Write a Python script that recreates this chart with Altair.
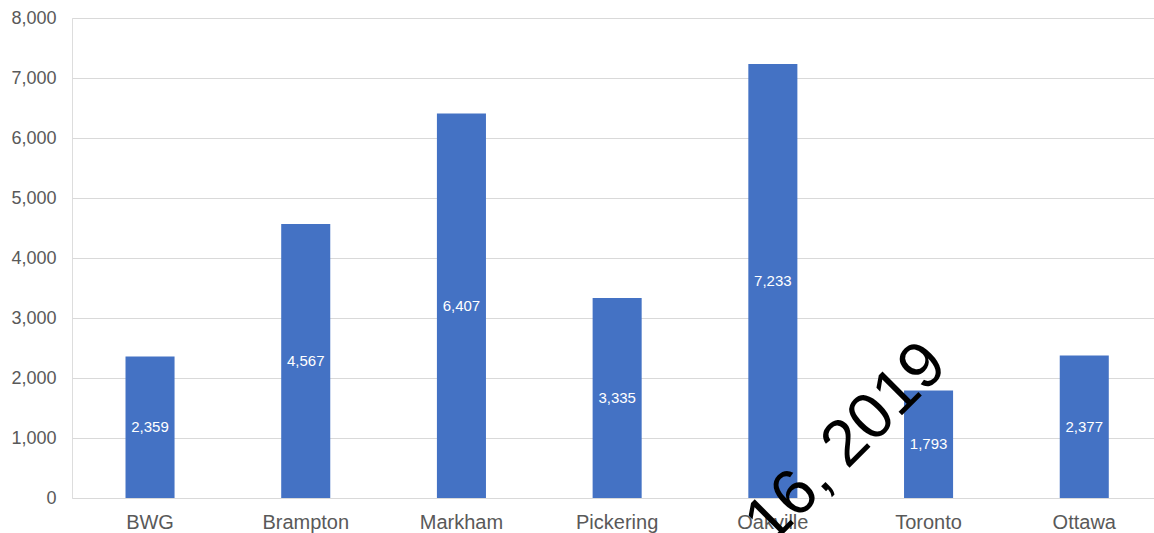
import altair as alt
import pandas as pd

cities = ["BWG", "Brampton", "Markham", "Pickering", "Oakville", "Toronto", "Ottawa"]
values = [2359, 4567, 6407, 3335, 7233, 1793, 2377]
stamp_text = ["16, 2019"]

df = pd.DataFrame({"city": cities, "value": values})
df["mid"] = df["value"] / 2

x_enc = alt.X(
    "city:N",
    sort=cities,
    title=None,
    scale=alt.Scale(paddingInner=0.685, paddingOuter=0.317, align=0.542),
    axis=alt.Axis(
        labelAngle=0, labelFontSize=20, labelColor="#595959", labelFont="Liberation Sans",
        domain=False, ticks=False, labelPadding=14,
    ),
)

bars = alt.Chart(df).mark_bar(color="#4472C4").encode(
    x=x_enc,
    y=alt.Y(
        "value:Q",
        title=None,
        scale=alt.Scale(domain=[0, 8000], nice=False),
        axis=alt.Axis(
            values=list(range(0, 8001, 1000)), format=",.0f", labelFontSize=18,
            labelColor="#595959", labelFont="Liberation Sans", domain=False, ticks=False,
            labelPadding=16, gridColor="#d9d9d9", gridWidth=1,
        ),
    ),
)

labels = alt.Chart(df).mark_text(
    color="white", fontSize=15, font="Liberation Sans", baseline="middle", align="center"
).encode(
    x=alt.X("city:N", sort=cities),
    y=alt.Y("mid:Q"),
    text=alt.Text("value:Q", format=",.0f"),
)

stamp = alt.Chart(pd.DataFrame({"t": stamp_text})).mark_text(
    angle=315, fontSize=65, font="Liberation Sans", color="black",
    align="center", baseline="middle",
).encode(
    x=alt.value(774),
    y=alt.value(425),
    text="t:N",
)

chart = (
    alt.layer(bars, labels, stamp)
    .properties(width=1082, height=480, padding={"left": 72, "top": 18, "right": 0, "bottom": 35},
                autosize=alt.AutoSizeParams(type="none"))
    .configure_view(strokeWidth=0)
    .configure(background="white")
)

chart.save("out.html", embed_options={"renderer": "svg", "actions": False})
